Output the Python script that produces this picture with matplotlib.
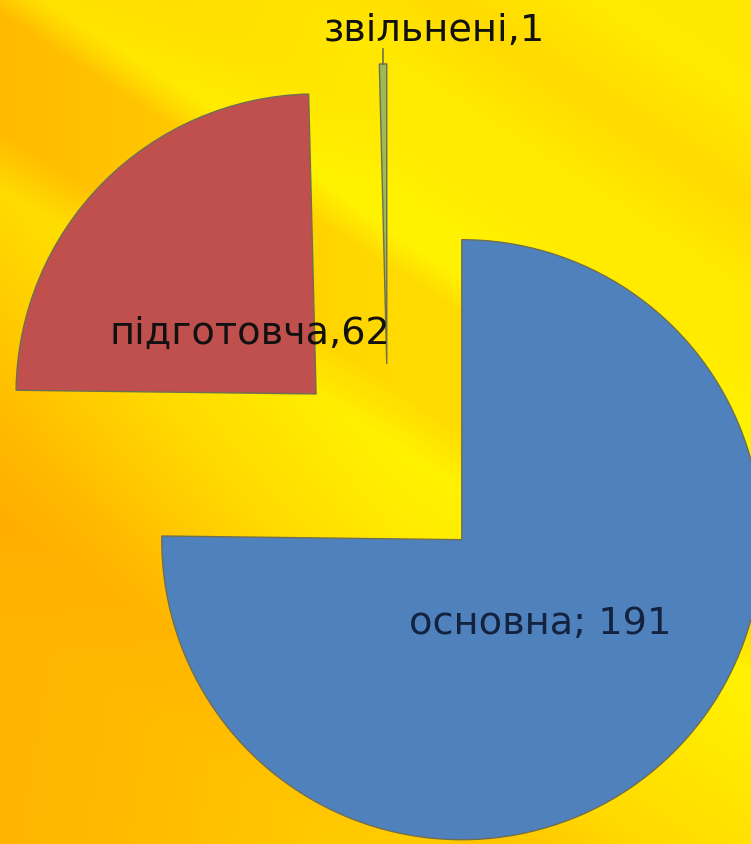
import numpy as np
import matplotlib.pyplot as plt
from matplotlib.colors import LinearSegmentedColormap

# Дані
categories = ['основна', 'підготовча', 'звільнені']
values = [191, 62, 1]
label_texts = ['основна; 191', 'підготовча,62', 'звільнені,1']
colors = ['#4F81BD', '#C0504D', '#9BBB59']
explode_frac = [0.35, 0.337, 0.337]

W, H = 751, 845

fig = plt.figure(figsize=(W / 100, H / 100), dpi=100)
ax = fig.add_axes([0, 0, 1, 1])

# Фон: жовто-помаранчевий градієнт з діагональними смугами
xx, yy = np.meshgrid(np.arange(W), np.arange(H))
v = yy - 0.65 * xx
knots = [-600, -380, -285, -200, -120, -90, -30, 15, 130, 190, 300, 420, 520, 620, 900]
lev = [0.72, 0.74, 0.55, 0.74, 0.76, 0.8, 0.92, 0.55, 0.55, 0.85, 0.72, 0.55, 0.35, 0.45, 0.48]
glow = np.interp(v, knots, lev) + 0.3 * np.clip(xx / 400, 0, 1) - 0.15
glow = np.clip(glow, 0, 1)
bg_cmap = LinearSegmentedColormap.from_list(
    'bg', [(0, '#FFA200'), (0.4, '#FFBA00'), (0.7, '#FFDA00'), (1, '#FFF200')])
ax.imshow(glow, cmap=bg_cmap, vmin=0, vmax=1, extent=[0, W, 0, H],
          origin='upper', zorder=0, aspect='auto')

center = (388, H - 466)
radius = 300
wedges, _ = ax.pie(values, explode=[e * radius for e in explode_frac], colors=colors,
                   startangle=90, counterclock=False, center=center, radius=radius,
                   wedgeprops=dict(edgecolor='#6f6f50', linewidth=1.0))

# Підписи
dist = [0.37, 0.31]
txt_colors = ['#13233f', '#111111']
for w, lab, d, tc in zip(wedges[:2], label_texts[:2], dist, txt_colors):
    ang = np.deg2rad((w.theta1 + w.theta2) / 2)
    cx, cy = w.center
    ax.text(cx + d * w.r * np.cos(ang), cy + d * w.r * np.sin(ang), lab,
            ha='center', va='center_baseline', fontsize=27.5, color=tc,
            family='DejaVu Sans', zorder=5)

g = wedges[2]
ang = np.deg2rad((g.theta1 + g.theta2) / 2)
tip = (g.center[0] + g.r * np.cos(ang), g.center[1] + g.r * np.sin(ang))
ax.plot([tip[0], tip[0]], [tip[1], tip[1] + 15], color='#6f6f50', lw=1.2, zorder=4)
ax.annotate(label_texts[2], xy=tip, xytext=(37, 27), textcoords='offset points',
            ha='center', va='center_baseline', fontsize=27.5, color='#111111',
            family='DejaVu Sans', zorder=5)

ax.set_xlim(0, W)
ax.set_ylim(0, H)
ax.axis('off')

fig.savefig('out.png', dpi=100)
